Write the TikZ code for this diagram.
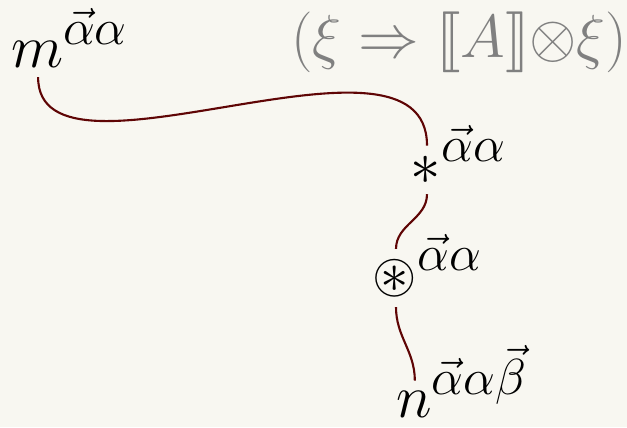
\documentclass[tikz,border=0pt]{standalone}
\usepackage{amsmath, amssymb}
\usepackage{mathtools}
\usepackage{stmaryrd}
\usepackage{xcolor}
\usepackage{tikz}
\usetikzlibrary{positioning}
\definecolor{paper}{RGB}{248,247,241}
\definecolor{wire}{RGB}{95,5,5}
\definecolor{formgray}{RGB}{128,128,128}
\DeclareMathSizes{16.2}{16.2}{13.4}{10.5}
\newcommand{\hsup}[1]{^{\smash{\mathrlap{#1}}}}

\begin{document}
\begin{tikzpicture}[x=0.01cm, y=-0.01cm,
        every node/.style={font=\fontsize{16.2}{19}\selectfont},
        term/.style={inner sep=0pt, outer sep=2.9pt},
        wirestyle/.style={draw=wire, line width=0.6pt}]
      \useasboundingbox (0,0) rectangle (627,427);
      \fill[paper] (0,0) rectangle (627,427);
      \node[term, anchor=base west] (m) at (1,67) {$m\hsup{\vec\alpha\alpha}$};
      \node[anchor=base east, inner sep=0pt, text=formgray] (rule) at (628,57)
           {$(\xi \Rightarrow \llbracket A\rrbracket{\otimes}\xi)$};
      \node[term, anchor=base] (star) at (427,184) {$\ast\hsup{\vec\alpha\alpha}$};
      \node[term] (circ) at (396,278) {$\circledast\hsup{\vec\alpha\alpha}$};
      \node[term, anchor=base west] (n) at (386,417) {$n\hsup{\vec\alpha\alpha\vec\beta}$};

      \draw[wirestyle] (m.south) .. controls +(0,125) and +(0,-140) .. (star.north);
      \draw[wirestyle] (star.south) to[out=-90, in=90] (circ.north);
      \draw[wirestyle] (circ.south) to[out=-90, in=90] (n.north);
    \end{tikzpicture}
\end{document}
